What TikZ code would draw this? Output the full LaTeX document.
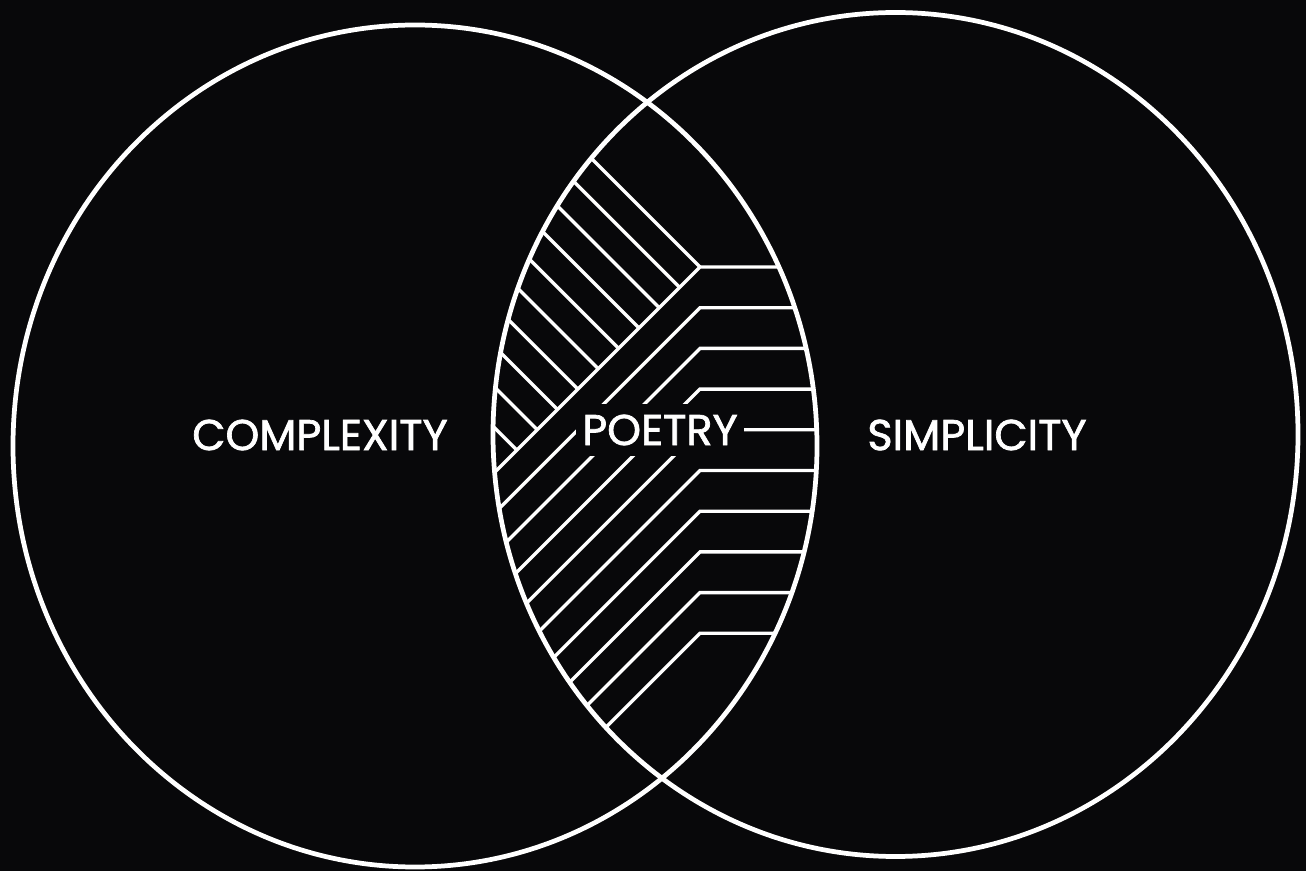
\documentclass[tikz,border=0pt]{standalone}
\usepackage{fontspec}
\newfontfamily\vennfont{Poppins}[RawFeature={embolden=1.6}]
\definecolor{vennblack}{RGB}{8,8,10}

\begin{document}
\begin{tikzpicture}[x=0.02cm,y=-0.02cm,
  ring/.style={draw=white,line width=2.7pt},
  hatch/.style={draw=white,line width=1.9pt},
  tag/.style={text=white,inner sep=0pt,
    font=\vennfont\fontsize{24.5}{28}\selectfont}]
\fill[vennblack] (0,0) rectangle (1306,871);
\useasboundingbox (0,0) rectangle (1306,871);
% hatching inside the overlap
\begin{scope}
  \clip (415,446) ellipse [x radius=402,y radius=421];
  \clip (895.5,434.5) ellipse [x radius=402.5,y radius=422];
  \foreach \j in {0,...,10}
    \draw[hatch] (700-20.35*\j,267+20.35*\j) -- ++(-300,-300);
  \foreach \k in {0,...,9}
    \draw[hatch] (900,267+40.7*\k) -- (700,267+40.7*\k) -- ++(-400,400);
\end{scope}
\draw[ring] (415,446) ellipse [x radius=402,y radius=421];
\draw[ring] (895.5,434.5) ellipse [x radius=402.5,y radius=422];
\node[tag,fill=vennblack,minimum width=3.36cm,minimum height=1.04cm]
  (poetry) at (660,430) {POETRY};
\node[tag] (complexity) at (320,435) {COMPLEXITY};
\node[tag] (simplicity) at (977,435) {SIMPLICITY};
\end{tikzpicture}
\end{document}
